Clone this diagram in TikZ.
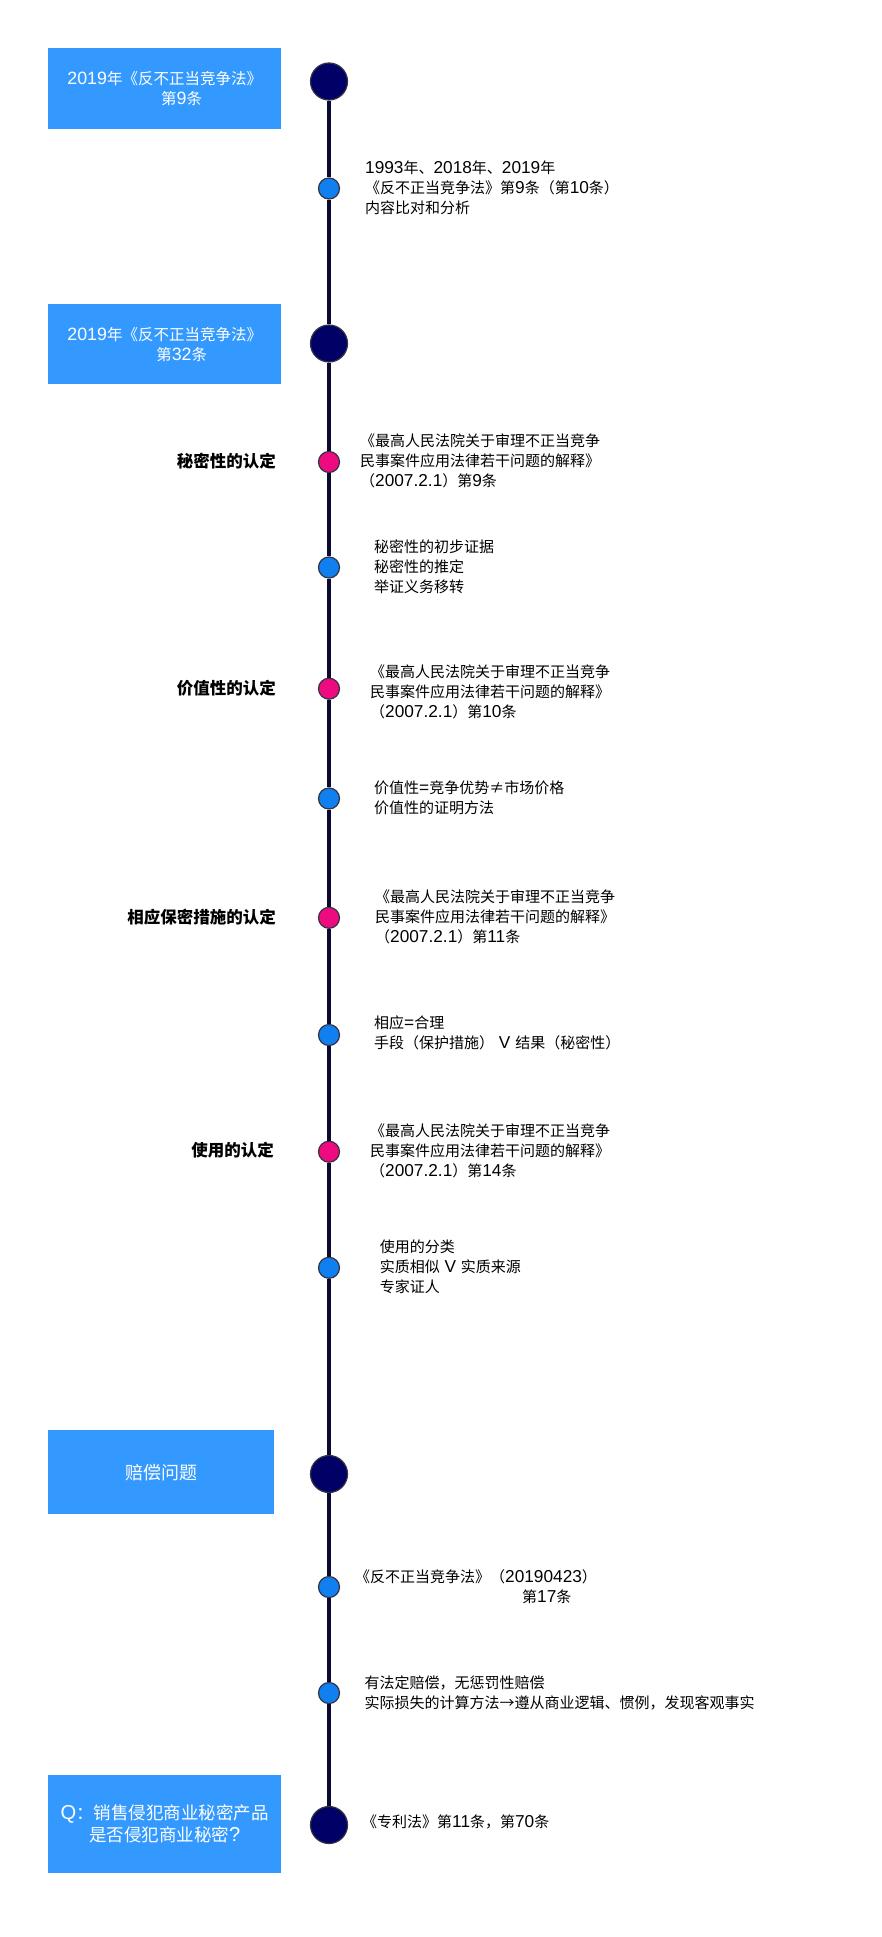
\documentclass[tikz,border=0pt]{standalone}
\usepackage{fontspec}
\setmainfont{Noto Sans CJK SC}
\newfontfamily\latf{Liberation Sans}[Scale=1.15]
\newcommand{\ar}[1]{{\latf #1}}
\definecolor{boxblue}{HTML}{3399FF}
\definecolor{navy}{HTML}{000066}
\definecolor{rim}{HTML}{333344}
\definecolor{dotblue}{HTML}{1080F0}
\definecolor{dotpink}{HTML}{EE0A7F}
\definecolor{tline}{HTML}{0A0A33}
\begin{document}
\begin{tikzpicture}[x=1pt,y=-1pt,
  box/.style={fill=boxblue, draw=none, text=white, align=center, inner sep=0, anchor=north west, font=\fontsize{15.5}{20}\selectfont},
  big/.style={circle, fill=navy, draw=rim, line width=1.2pt, minimum size=37pt, inner sep=0},
  sm/.style={circle, fill=dotblue, draw=rim, line width=1.2pt, minimum size=21pt, inner sep=0},
  pk/.style={sm, fill=dotpink},
  txt/.style={anchor=west, align=left, inner sep=0, font=\fontsize{15}{20}\selectfont},
  lab/.style={anchor=east, inner sep=0, font=\fontsize{16.5}{20}\selectfont\bfseries},
  tl/.style={draw=tline, line width=3.5pt}]
\useasboundingbox (0,0) rectangle (881,1937);
% boxes
\node[box, minimum width=233pt, minimum height=81pt] (B1) at (48,48) {\ar{2019}年《反不正当竞争法》\\\hspace*{34pt}第\ar{9}条};
\node[box, minimum width=233pt, minimum height=80pt] (B2) at (48,304) {\ar{2019}年《反不正当竞争法》\\\hspace*{34pt}第\ar{32}条};
\node[box, minimum width=226pt, minimum height=84pt, font=\fontsize{18}{22}\selectfont] (B3) at (48,1430) {赔偿问题};
\node[box, minimum width=233pt, minimum height=98pt, font=\fontsize{17.5}{22}\selectfont] (B4) at (48,1775) {\ar{Q}：销售侵犯商业秘密产品\\是否侵犯商业秘密\ar{?}};
% dots
\node[big] (b1) at (329,81.5) {};
\node[sm]  (s1) at (329,188.5) {};
\node[big] (b2) at (329,343.5) {};
\node[pk]  (p1) at (329,462) {};
\node[sm]  (s2) at (329,567.5) {};
\node[pk]  (p2) at (329,688.7) {};
\node[sm]  (s3) at (329,798.5) {};
\node[pk]  (p3) at (329,917.8) {};
\node[sm]  (s4) at (329,1035) {};
\node[pk]  (p4) at (329,1151.7) {};
\node[sm]  (s5) at (329,1267.8) {};
\node[big] (b3) at (329,1474) {};
\node[sm]  (s6) at (329,1587) {};
\node[sm]  (s7) at (329,1693) {};
\node[big] (b4) at (329,1825) {};
% timeline
\draw[tl] (b1) -- (s1);
\draw[tl] (s1) -- (b2);
\draw[tl] (b2) -- (p1);
\draw[tl] (p1) -- (s2);
\draw[tl] (s2) -- (p2);
\draw[tl] (p2) -- (s3);
\draw[tl] (s3) -- (p3);
\draw[tl] (p3) -- (s4);
\draw[tl] (s4) -- (p4);
\draw[tl] (p4) -- (s5);
\draw[tl] (s5) -- (b3);
\draw[tl] (b3) -- (s6);
\draw[tl] (s6) -- (s7);
\draw[tl] (s7) -- (b4);
% labels
\node[lab] (l1) at (276,461) {秘密性的认定};
\node[lab] (l2) at (276,688) {价值性的认定};
\node[lab] (l3) at (276,917) {相应保密措施的认定};
\node[lab] (l4) at (274,1150) {使用的认定};
% texts
\node[txt] (t1) at (365,188) {\ar{1993}年、\ar{2018}年、\ar{2019}年\\《反不正当竞争法》第\ar{9}条（第\ar{10}条）\\内容比对和分析};
\node[txt] (t2) at (360,461) {《最高人民法院关于审理不正当竞争\\民事案件应用法律若干问题的解释》\\（\ar{2007.2.1}）第\ar{9}条};
\node[txt] (t3) at (374,566.7) {秘密性的初步证据\\秘密性的推定\\举证义务移转};
\node[txt] (t4) at (370,691.7) {《最高人民法院关于审理不正当竞争\\民事案件应用法律若干问题的解释》\\（\ar{2007.2.1}）第\ar{10}条};
\node[txt] (t5) at (374,797.7) {价值性\ar{=}竞争优势≠市场价格\\价值性的证明方法};
\node[txt] (t6) at (375,916.7) {《最高人民法院关于审理不正当竞争\\民事案件应用法律若干问题的解释》\\（\ar{2007.2.1}）第\ar{11}条};
\node[txt] (t7) at (374,1033) {相应\ar{=}合理\\手段（保护措施）\ar{ V }结果（秘密性）};
\node[txt] (t8) at (370,1151) {《最高人民法院关于审理不正当竞争\\民事案件应用法律若干问题的解释》\\（\ar{2007.2.1}）第\ar{14}条};
\node[txt] (t9) at (379.6,1266.7) {使用的分类\\实质相似\ar{ V }实质来源\\专家证人};
\node[txt] (t10) at (355,1586.7) {《反不正当竞争法》（\ar{20190423}）\\\hspace*{167pt}第\ar{17}条};
\node[txt] (t11) at (364.5,1693) {有法定赔偿，无惩罚性赔偿\\实际损失的计算方法→遵从商业逻辑、惯例，发现客观事实};
\node[txt] (t12) at (362,1821.7) {《专利法》第\ar{11}条，第\ar{70}条};
\end{tikzpicture}
\end{document}
